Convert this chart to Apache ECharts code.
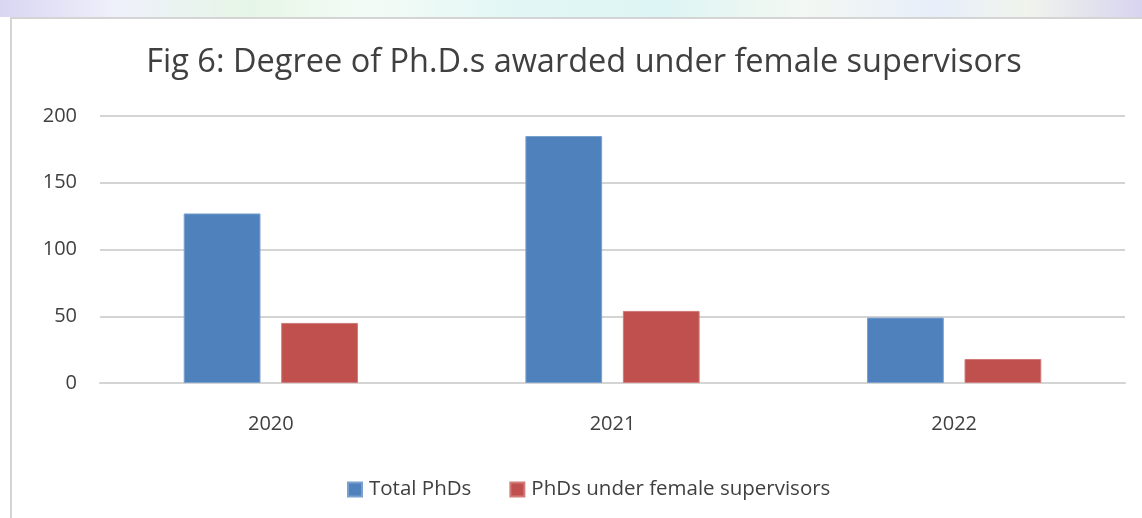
<!DOCTYPE html>
<html>
<head>
<meta charset="utf-8">
<script src="https://cdn.jsdelivr.net/npm/echarts@6/dist/echarts.min.js"></script>
<style>
  html, body { margin: 0; padding: 0; width: 1142px; height: 518px; overflow: hidden; background: #fff; }
  /* 顶部的水印条 */
  .strip {
    position: absolute; left: 0; top: 0; width: 1142px; height: 17px;
    background: linear-gradient(90deg, #d9d6f2 0%, #eef0fa 10%, #e6f6e6 22%, #f4fbf6 32%, #e2f7f5 45%, #ddf5f4 58%, #f3f8f2 70%, #e8eefa 82%, #f0f4ec 90%, #d8d4f0 100%);
  }
  .frame {
    position: absolute; left: 10px; top: 17px; width: 1140px; height: 510px;
    border-left: 2px solid #d4d4d4; border-top: 2px solid #d4d4d4; background: #fff;
  }
  #chart { position: absolute; left: 0; top: 0; width: 1142px; height: 518px; }
</style>
</head>
<body>
<div class="strip"></div>
<div class="frame"></div>
<div id="chart"></div>
<script>
  var years = ["2020", "2021", "2022"];
  var totalPhds = [127, 185, 49];
  var femalePhds = [45, 54, 18];
  var yTicks = [0, 50, 100, 150, 200];

  var myChart = echarts.init(document.getElementById("chart"));
  var font = "'Open Sans', sans-serif";

  var option = {
    backgroundColor: "transparent",
    animation: false,
    title: {
      text: "Fig 6: Degree of Ph.D.s awarded under female supervisors",
      left: 584,
      top: 46,
      padding: 0,
      textAlign: "center",
      textStyle: { fontFamily: font, fontSize: 32.5, fontWeight: "normal", color: "#404040" },
    },
    legend: {
      left: 347,
      top: 479,
      padding: 0,
      itemWidth: 14,
      itemHeight: 14,
      itemGap: 38,
      icon: "rect",
      textStyle: { fontFamily: font, fontSize: 20.5, color: "#404040", padding: [0, 0, 0, 2] },
    },
    grid: { left: 100, right: 17, top: 116, bottom: 135 },
    xAxis: {
      type: "category",
      data: years,
      axisLine: { lineStyle: { color: "#d4d4d4", width: 2 } },
      axisTick: { show: false },
      axisLabel: { fontFamily: font, fontSize: 20, color: "#404040", margin: 31 },
    },
    yAxis: {
      type: "value",
      min: yTicks[0],
      max: yTicks[yTicks.length - 1],
      interval: 50,
      axisLine: { show: false },
      axisTick: { show: false },
      axisLabel: { fontFamily: font, fontSize: 20, color: "#404040", margin: 23 },
      splitLine: { lineStyle: { color: "#d4d4d4", width: 2 } },
    },
    series: [
      {
        name: "Total PhDs",
        type: "bar",
        data: totalPhds,
        barGap: "27%",
        barCategoryGap: "49%",
        itemStyle: { color: "#4f81bd", borderColor: "#7aa0cf", borderWidth: 1 },
      },
      {
        name: "PhDs under female supervisors",
        type: "bar",
        data: femalePhds,
        itemStyle: { color: "#c0504d", borderColor: "#d27b78", borderWidth: 1 },
      },
    ],
  };

  myChart.setOption(option);
</script>
</body>
</html>
